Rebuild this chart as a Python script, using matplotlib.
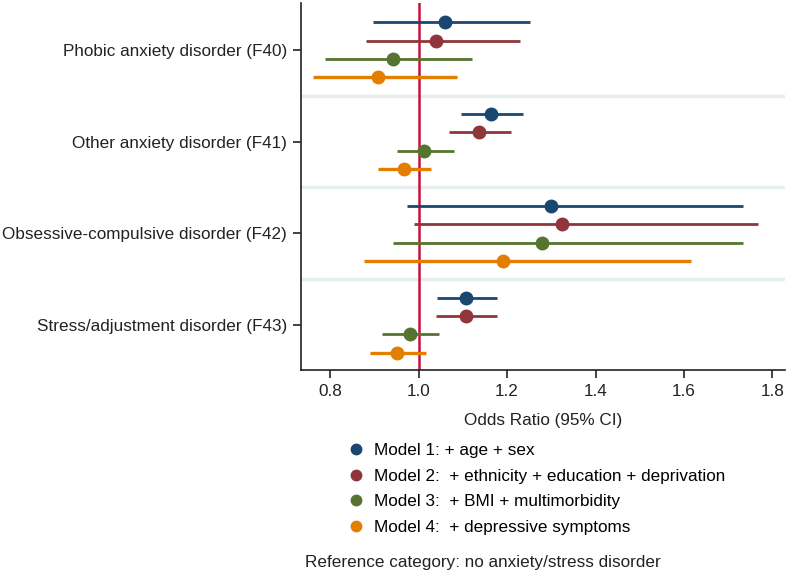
import matplotlib.pyplot as plt
from matplotlib.lines import Line2D
import numpy as np

plt.rcParams['font.family'] = ['Liberation Sans', 'DejaVu Sans']

# outcomes, top to bottom
disorders = ["Phobic anxiety disorder (F40)",
             "Other anxiety disorder (F41)",
             "Obsessive-compulsive disorder (F42)",
             "Stress/adjustment disorder (F43)"]

models = ["Model 1: + age + sex",
          "Model 2:  + ethnicity + education + deprivation",
          "Model 3:  + BMI + multimorbidity",
          "Model 4:  + depressive symptoms"]

# odds ratios and 95% CI, rows = disorder, cols = model
odds = np.array([[1.059, 1.040, 0.941, 0.909],
                 [1.164, 1.136, 1.012, 0.966],
                 [1.300, 1.324, 1.280, 1.190],
                 [1.108, 1.107, 0.980, 0.951]])
ci_low = np.array([[0.897, 0.880, 0.789, 0.762],
                   [1.096, 1.069, 0.950, 0.907],
                   [0.974, 0.990, 0.942, 0.877],
                   [1.042, 1.039, 0.918, 0.891]])
ci_high = np.array([[1.251, 1.230, 1.121, 1.086],
                    [1.236, 1.208, 1.080, 1.029],
                    [1.734, 1.768, 1.734, 1.615],
                    [1.178, 1.178, 1.046, 1.016]])

colors = ["#1a476f", "#90353b", "#55752f", "#e37e00"]
widths = [2.0, 2.0, 2.0, 2.4]
fs = 12.3

fig = plt.figure(figsize=(7.9, 5.74), dpi=100)
ax = fig.add_axes([0.381, 0.355, 0.613, 0.640])

# light separators between outcome groups
for s in [0.5, 1.5, 2.5]:
    ax.axhline(s, color="#e6eeef", lw=2.5, zorder=0)

ax.axvline(1.0, color="#c8103e", lw=1.8, zorder=1)

handles = []
for m in range(4):
    ypos = np.arange(4) + (m - 1.5) * 0.2
    ax.hlines(ypos, ci_low[:, m], ci_high[:, m], color=colors[m],
              lw=widths[m], zorder=2)
    ax.plot(odds[:, m], ypos, 'o', color=colors[m], ms=9, zorder=3)
    handles.append(Line2D([], [], ls='none', marker='o', color=colors[m], ms=7.5))

ax.set_xlim(0.734, 1.829)
ax.set_ylim(3.49, -0.51)
ax.set_yticks(np.arange(4))
ax.set_yticklabels(disorders, fontsize=fs, color="#222222")
ax.set_xticks([0.8, 1.0, 1.2, 1.4, 1.6, 1.8])
ax.set_xticklabels(["0.8", "1.0", "1.2", "1.4", "1.6", "1.8"], fontsize=fs,
                   color="#222222")
ax.tick_params(axis='both', length=6, width=1.2, color="#222222")
ax.tick_params(axis='y', pad=4)
ax.tick_params(axis='x', pad=4)
for side in ['top', 'right']:
    ax.spines[side].set_visible(False)
for side in ['left', 'bottom']:
    ax.spines[side].set_linewidth(1.2)
    ax.spines[side].set_color("#222222")

ax.set_xlabel("Odds Ratio (95% CI)", fontsize=fs, color="#222222", labelpad=10)

fig.legend(handles, models, loc='upper left', bbox_to_anchor=(0.442, 0.2275),
           frameon=False, fontsize=fs, handlelength=0.8, handletextpad=0.65,
           labelspacing=0.615, borderaxespad=0, borderpad=0)

fig.text(305 / 790, 1 - 562 / 574, "Reference category: no anxiety/stress disorder",
         fontsize=fs, color="#222222", va='center', ha='left')

fig.savefig("out.png", dpi=100)
